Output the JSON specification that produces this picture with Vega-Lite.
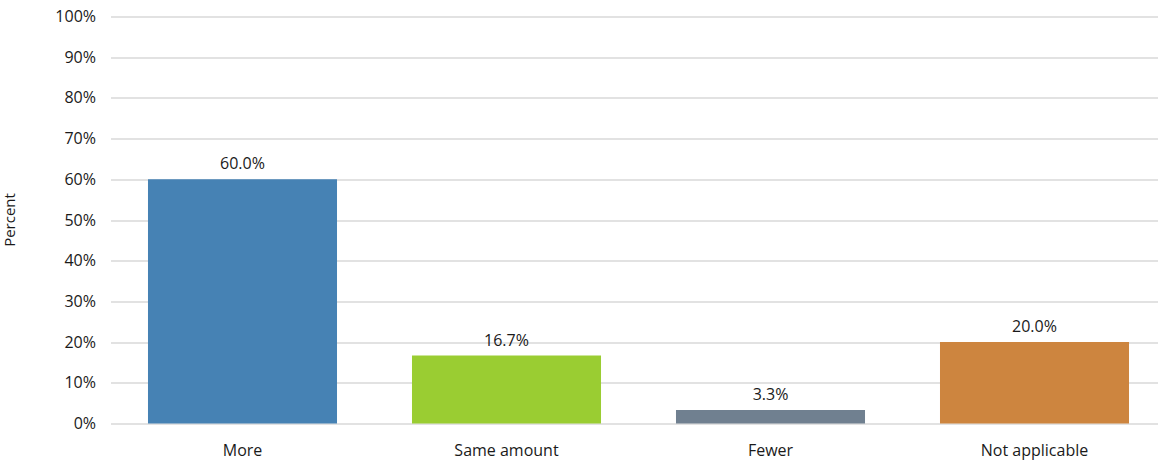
{
  "$schema": "https://vega.github.io/schema/vega-lite/v6.json",
  "autosize": {"type": "none"},
  "width": 1056,
  "height": 407,
  "padding": {"left": 110.5, "top": 16.5, "right": 0, "bottom": 43},
  "background": "white",
  "data": {
    "values": [
      {"response": "More", "percent": 0.6},
      {"response": "Same amount", "percent": 0.167},
      {"response": "Fewer", "percent": 0.033},
      {"response": "Not applicable", "percent": 0.2}
    ]
  },
  "config": {
    "view": {"stroke": null},
    "font": "Open Sans",
    "axis": {"labelFont": "Open Sans", "titleFont": "Open Sans", "labelColor": "#1a1a1a", "titleColor": "#1a1a1a"}
  },
  "encoding": {
    "x": {
      "field": "response",
      "type": "nominal",
      "sort": null,
      "scale": {"paddingInner": 0.284, "paddingOuter": 0.142},
      "axis": {"title": null, "labelAngle": 0, "domain": false, "ticks": false, "labelFontSize": 16, "labelPadding": 19}
    },
    "y": {
      "field": "percent",
      "type": "quantitative",
      "scale": {"domain": [0, 1]},
      "axis": {
        "title": "Percent",
        "titleFontSize": 15,
        "titleFontWeight": "normal",
        "titleX": -93,
        "titleY": 203,
        "titleAngle": -90,
        "format": ".0%",
        "values": [0, 0.1, 0.2, 0.3, 0.4, 0.5, 0.6, 0.7, 0.8, 0.9, 1.0],
        "labelOverlap": false,
        "domain": false,
        "ticks": false,
        "labelFontSize": 16,
        "labelPadding": 15,
        "gridColor": "#d9d9d9",
        "gridWidth": 1.5
      }
    }
  },
  "layer": [
    {
      "mark": {"type": "bar"},
      "encoding": {
        "color": {
          "field": "response",
          "type": "nominal",
          "sort": null,
          "scale": {"domain": ["More", "Same amount", "Fewer", "Not applicable"], "range": ["#4682b4", "#9acd32", "#708090", "#cd853f"]},
          "legend": null
        }
      }
    },
    {
      "mark": {"type": "text", "baseline": "bottom", "dy": -7, "fontSize": 16, "color": "#1a1a1a"},
      "encoding": {
        "text": {"field": "percent", "type": "quantitative", "format": ".1%"}
      }
    }
  ]
}
